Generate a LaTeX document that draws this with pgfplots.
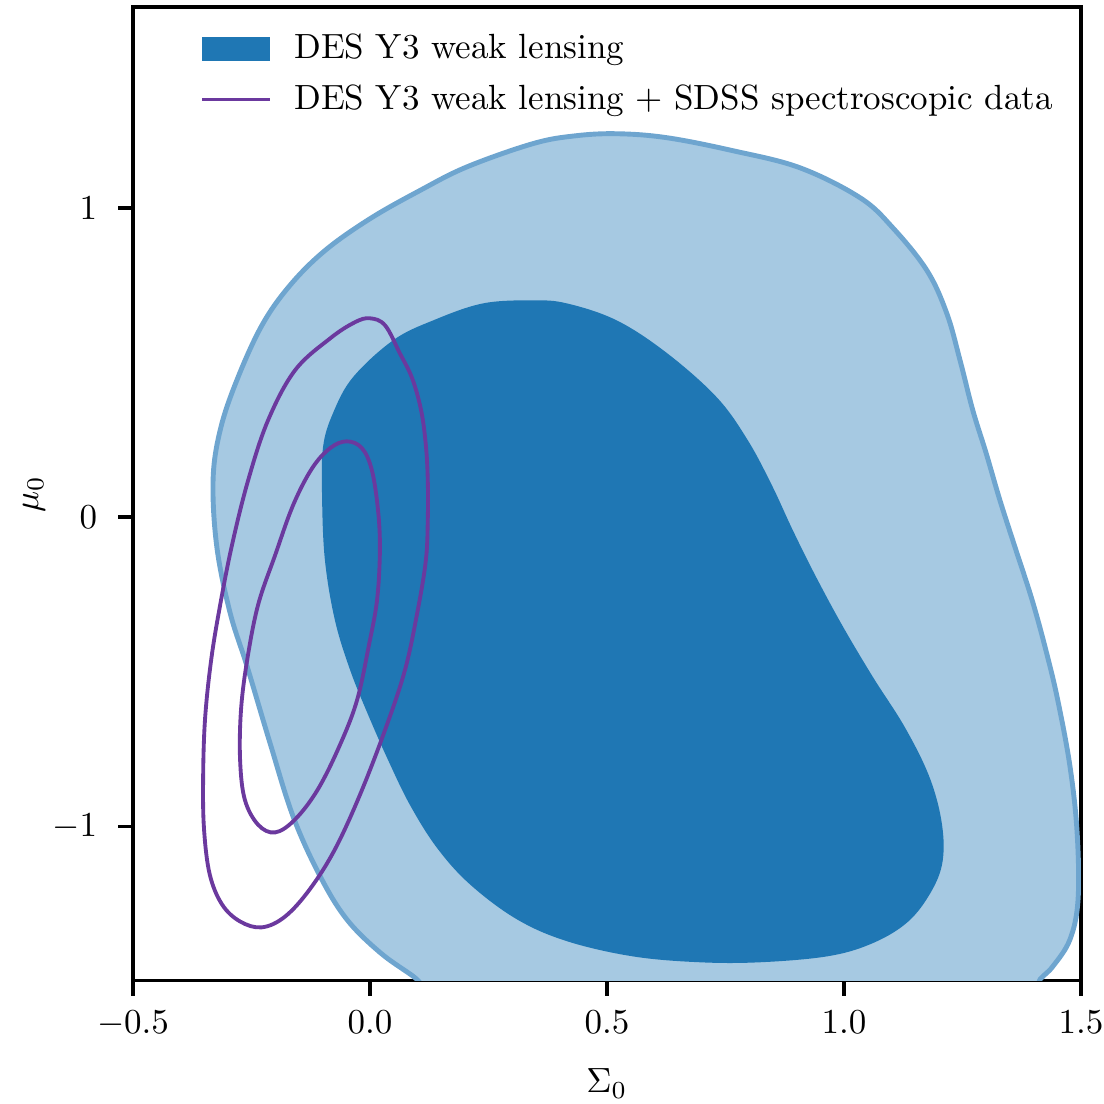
\documentclass[border=0pt]{standalone}
\usepackage{pgfplots}
\pgfplotsset{compat=1.18}
\definecolor{lightblue}{RGB}{166,201,226}
\definecolor{borderblue}{RGB}{110,165,207}
\definecolor{darkblue}{RGB}{31,119,180}
\definecolor{cpurple}{RGB}{107,57,158}
\begin{document}
\begin{tikzpicture}
\begin{axis}[
  scale only axis, width=270.9pt, height=278.3pt,
  xmin=-0.5, xmax=1.5, ymin=-1.5, ymax=1.65,
  xtick={-0.5,0,0.5,1,1.5}, ytick={-1,0,1},
  xtick pos=bottom, ytick pos=left,
  xticklabel style={/pgf/number format/fixed, /pgf/number format/fixed zerofill, /pgf/number format/precision=1, yshift=-0.8pt},
  yticklabel style={xshift=-2.5pt},
  tick align=outside, major tick length=4.2pt,
  every tick/.style={black, line width=0.95pt},
  axis line style={line width=0.95pt},
  xlabel={$\Sigma_0$}, ylabel={$\mu_0$},
  xlabel style={at={(axis description cs:0.5,-0.115)}, anchor=base},
  ylabel style={at={(axis description cs:-0.100,0.5)}, anchor=base},
  legend style={draw=none, fill=none, at={(axis description cs:0,1)}, anchor=north west,
    xshift=16pt, yshift=-4.6pt, row sep=3.8pt, column sep=5.4pt, nodes={inner sep=1pt}},
  legend cell align=left,
]
% outer (light) contour of DES Y3 weak lensing
\addplot[forget plot, fill=lightblue, draw=borderblue, line width=1.4pt, smooth cycle, tension=0.6] coordinates {
(0.521,1.240) (0.627,1.227) (0.766,1.185) (0.907,1.130) (1.034,1.033) (1.103,0.936)
(1.175,0.798) (1.217,0.659) (1.245,0.507) (1.272,0.345) (1.300,0.207) (1.329,0.055)
(1.363,-0.107) (1.397,-0.268) (1.426,-0.430) (1.451,-0.591) (1.477,-0.807) (1.492,-1.020)
(1.494,-1.237) (1.477,-1.366) (1.441,-1.453) (1.414,-1.495) (1.382,-1.56) (1.2,-1.66)
(0.8,-1.70) (0.4,-1.66) (0.158,-1.56) (0.091,-1.485) (0.021,-1.408) (-0.049,-1.301)
(-0.105,-1.162) (-0.162,-0.969) (-0.211,-0.730) (-0.259,-0.484) (-0.295,-0.310) (-0.323,-0.097)
(-0.331,0.119) (-0.316,0.281) (-0.281,0.442) (-0.228,0.620) (-0.169,0.749) (-0.095,0.862)
(0.000,0.965) (0.105,1.056) (0.205,1.133) (0.344,1.208) (0.432,1.233)
};
% inner (dark) contour
\addplot[fill=darkblue, draw=none, smooth cycle, tension=0.6,
  legend image code/.code={\fill[darkblue] (0pt,-3.5pt) rectangle (19.4pt,3.5pt);}] coordinates {
(0.344,0.701) (0.416,0.691) (0.521,0.636) (0.627,0.530) (0.732,0.387) (0.797,0.249)
(0.848,0.103) (0.892,-0.042) (0.939,-0.187) (0.996,-0.349) (1.061,-0.517) (1.129,-0.681)
(1.181,-0.843) (1.207,-0.995) (1.207,-1.124) (1.177,-1.230) (1.129,-1.317) (1.055,-1.382)
(0.964,-1.421) (0.823,-1.440) (0.696,-1.440) (0.555,-1.421) (0.416,-1.372) (0.310,-1.301)
(0.211,-1.188) (0.141,-1.069) (0.084,-0.930) (0.038,-0.785) (-0.004,-0.639) (-0.042,-0.494)
(-0.074,-0.333) (-0.095,-0.139) (-0.101,0.065) (-0.099,0.226) (-0.078,0.336) (-0.036,0.452)
(0.049,0.572) (0.133,0.636) (0.238,0.691)
};
\addlegendentry{DES Y3 weak lensing}
% purple outer
\addplot[draw=cpurple, line width=1.1pt, smooth cycle, tension=0.6,
  legend image code/.code={\draw[cpurple, line width=1.1pt] (0pt,0pt) -- (19.4pt,0pt);}] coordinates {
(0.000,0.643) (0.032,0.620) (0.063,0.530) (0.089,0.449) (0.108,0.345) (0.118,0.232)
(0.122,0.119) (0.122,-0.010) (0.118,-0.139) (0.101,-0.300) (0.074,-0.494) (0.032,-0.688)
(-0.021,-0.898) (-0.074,-1.075) (-0.127,-1.204) (-0.179,-1.292) (-0.228,-1.327) (-0.274,-1.308)
(-0.312,-1.253) (-0.338,-1.156) (-0.350,-1.011) (-0.352,-0.849) (-0.348,-0.655) (-0.335,-0.462)
(-0.316,-0.284) (-0.291,-0.090) (-0.257,0.119) (-0.215,0.313) (-0.158,0.475) (-0.084,0.578)
(-0.032,0.630)
};
\addlegendentry{DES Y3 weak lensing + SDSS spectroscopic data}
% purple inner
\addplot[forget plot, draw=cpurple, line width=1.1pt, smooth cycle, tension=0.6] coordinates {
(-0.049,0.245) (-0.017,0.223) (0.004,0.152) (0.017,0.023) (0.021,-0.107) (0.015,-0.268)
(-0.002,-0.413) (-0.027,-0.591) (-0.063,-0.736) (-0.110,-0.881) (-0.158,-0.978) (-0.200,-1.020)
(-0.236,-0.995) (-0.264,-0.914) (-0.274,-0.785) (-0.272,-0.623) (-0.259,-0.462) (-0.236,-0.284)
(-0.200,-0.123) (-0.162,0.039) (-0.122,0.158) (-0.084,0.223)
};
\end{axis}
\pgfresetboundingbox
\path[use as bounding box] (-38pt,-35.1pt) rectangle (277.5pt,280.3pt);
\end{tikzpicture}
\end{document}
